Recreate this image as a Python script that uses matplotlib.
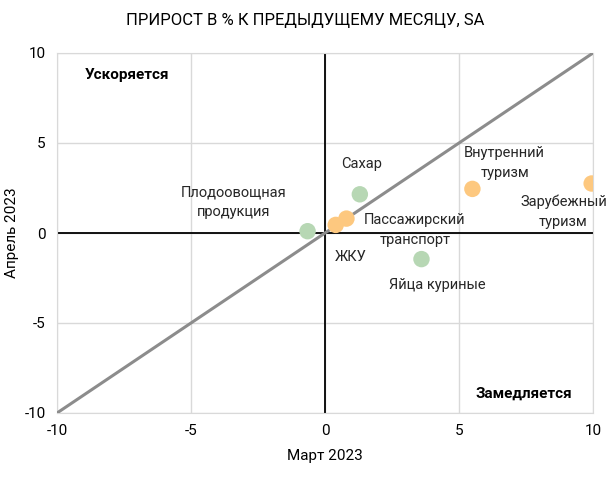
import matplotlib
matplotlib.use("Agg")
import matplotlib.pyplot as plt

plt.rcParams['font.family'] = ['Roboto', 'DejaVu Sans']
plt.rcParams['axes.unicode_minus'] = False

names = ["Плодоовощная\nпродукция", "ЖКУ", "Пассажирский\nтранспорт", "Сахар",
         "Яйца куриные", "Внутренний\nтуризм", "Зарубежный\nтуризм"]
x_vals = [-0.65, 0.4, 0.8, 1.3, 3.6, 5.5, 9.95]
y_vals = [0.1, 0.45, 0.8, 2.15, -1.45, 2.45, 2.75]
groups = ["green", "orange", "orange", "green", "green", "orange", "orange"]
colors = {"green": "#b7d7b4", "orange": "#fdc87f"}
ticks = [-10, -5, 0, 5, 10]

fig = plt.figure(figsize=(6.11, 4.80), dpi=100)
ax = fig.add_axes([57/611, 1-413/480, 536/611, 360/480])
ax.set_xlim(-10, 10)
ax.set_ylim(-10, 10)
ax.set_xticks(ticks)
ax.set_yticks(ticks)
ax.set_xticklabels([str(t) for t in ticks])
ax.set_yticklabels([str(t) for t in ticks])
ax.grid(True, color="#d9d9d9", linewidth=1)
for s in ax.spines.values():
    s.set_color("#d9d9d9")
ax.tick_params(length=0, labelsize=11, pad=8)
ax.axhline(0, color="black", lw=1.3, zorder=2)
ax.axvline(0, color="black", lw=1.3, zorder=2)
ax.plot([-10, 10], [-10, 10], color="#8c8c8c", lw=2.2, zorder=3)
ax.scatter(x_vals, y_vals, s=140, c=[colors[g] for g in groups], zorder=4, linewidths=0)

label_pos = {
    "Плодоовощная\nпродукция": (-3.4, 1.7),
    "ЖКУ": (0.97, -1.33),
    "Пассажирский\nтранспорт": (3.35, 0.17),
    "Сахар": (1.35, 3.85),
    "Яйца куриные": (4.2, -2.9),
    "Внутренний\nтуризм": (6.7, 3.9),
    "Зарубежный\nтуризм": (8.9, 1.17),
}
for n in names:
    lx, ly = label_pos[n]
    ax.text(lx, ly, n, ha="center", va="center", fontsize=10.5, color="#262626",
            linespacing=1.55, zorder=5, clip_on=False)

ax.text(-7.4, 8.8, "Ускоряется", ha="center", va="center", fontsize=11, fontweight="bold")
ax.text(7.4, -8.9, "Замедляется", ha="center", va="center", fontsize=11, fontweight="bold")

ax.set_xlabel("Март 2023", fontsize=11, labelpad=8)
ax.set_ylabel("Апрель 2023", fontsize=11, labelpad=4)
fig.text(0.5, 1-20/480, "ПРИРОСТ В % К ПРЕДЫДУЩЕМУ МЕСЯЦУ, SA", ha="center", va="center", fontsize=12)

fig.savefig("out.png", dpi=100)
